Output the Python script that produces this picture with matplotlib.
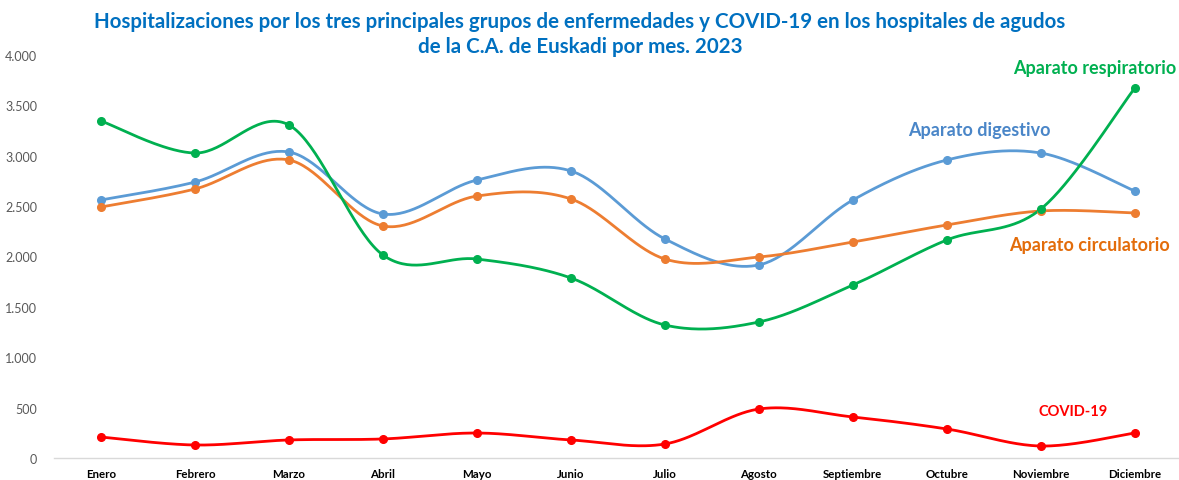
import numpy as np
import matplotlib
matplotlib.use("Agg")
import matplotlib.pyplot as plt

meses = ["Enero", "Febrero", "Marzo", "Abril", "Mayo", "Junio", "Julio",
         "Agosto", "Septiembre", "Octubre", "Noviembre", "Diciembre"]
digestivo = [2561, 2739, 3037, 2422, 2759, 2849, 2174, 1916, 2561, 2958, 3027, 2650]
circulatorio = [2491, 2670, 2958, 2303, 2600, 2571, 1975, 1995, 2144, 2313, 2452, 2432]
respiratorio = [3345, 3027, 3305, 2015, 1975, 1787, 1320, 1350, 1717, 2164, 2471, 3672]
covid = [208, 129, 179, 189, 248, 179, 139, 486, 407, 288, 119, 248]
yticks = [0, 500, 1000, 1500, 2000, 2500, 3000, 3500, 4000]
ytick_labels = ["0", "500", "1.000", "1.500", "2.000", "2.500", "3.000", "3.500", "4.000"]

plt.rcParams['font.family'] = ['Lato', 'DejaVu Sans']

W, H = 1179, 481
fig = plt.figure(figsize=(W / 100, H / 100), dpi=100)
ax = fig.add_axes([54 / W, (H - 459) / H, (1179 - 54) / W, (459 - 56) / H])


def smooth(x, y, n=40):
    x = np.asarray(x, float)
    y = np.asarray(y, float)
    P = np.column_stack([x, y])
    Pe = np.vstack([P[0], P, P[-1]])
    out = []
    for i in range(len(P) - 1):
        p0, p1, p2, p3 = Pe[i], Pe[i + 1], Pe[i + 2], Pe[i + 3]
        c1 = p1 + (p2 - p0) / 6.0
        c2 = p2 - (p3 - p1) / 6.0
        t = np.linspace(0, 1, n)[:, None]
        seg = ((1 - t) ** 3) * p1 + 3 * ((1 - t) ** 2) * t * c1 + 3 * (1 - t) * t ** 2 * c2 + t ** 3 * p2
        out.append(seg if i == 0 else seg[1:])
    s = np.vstack(out)
    return s[:, 0], s[:, 1]


xs = np.arange(len(meses))
series = [
    (digestivo, "#5B9BD5"),
    (circulatorio, "#ED7D31"),
    (respiratorio, "#00B050"),
    (covid, "#FF0000"),
]
for vals, col in series:
    sx, sy = smooth(xs, vals)
    ax.plot(sx, sy, color=col, lw=2.0, solid_capstyle="round", zorder=3)
    ax.plot(xs, vals, "o", color=col, ms=5.5, zorder=4)

ax.set_xlim(-0.5, 11.47)
ax.set_ylim(0, 4000)
ax.set_yticks(yticks)
ax.set_yticklabels(ytick_labels, color="#595959", fontsize=9)
ax.set_xticks(xs)
ax.set_xticklabels(meses, fontsize=8.3, fontweight="bold", color="#000000")
ax.tick_params(axis="both", length=0)
ax.tick_params(axis="y", pad=12)
ax.tick_params(axis="x", pad=7)
for s in ["top", "right", "left"]:
    ax.spines[s].set_visible(False)
ax.spines["bottom"].set_color("#D9D9D9")
ax.spines["bottom"].set_linewidth(1.0)

ax.text(10.57, 3871, "Aparato respiratorio", color="#00B050", fontsize=13,
        fontweight="bold", ha="center", va="center")
ax.text(9.35, 3256, "Aparato digestivo", color="#4A86C8", fontsize=13,
        fontweight="bold", ha="center", va="center")
ax.text(10.52, 2124, "Aparato circulatorio", color="#E36C0A", fontsize=13,
        fontweight="bold", ha="center", va="center")
ax.text(10.34, 466, "COVID-19", color="#FF0000", fontsize=10.5,
        fontweight="bold", ha="center", va="center")

fig.text(580 / W, 1 - 22 / H,
         "Hospitalizaciones por los tres principales grupos de enfermedades y COVID-19 en los hospitales de agudos",
         color="#0070C0", fontsize=14.8, fontweight="bold", ha="center", va="center")
fig.text(580 / W, 1 - 47 / H, "de la C.A. de Euskadi por mes. 2023",
         color="#0070C0", fontsize=14.8, fontweight="bold", ha="center", va="center")

fig.savefig("out.png", dpi=100)
